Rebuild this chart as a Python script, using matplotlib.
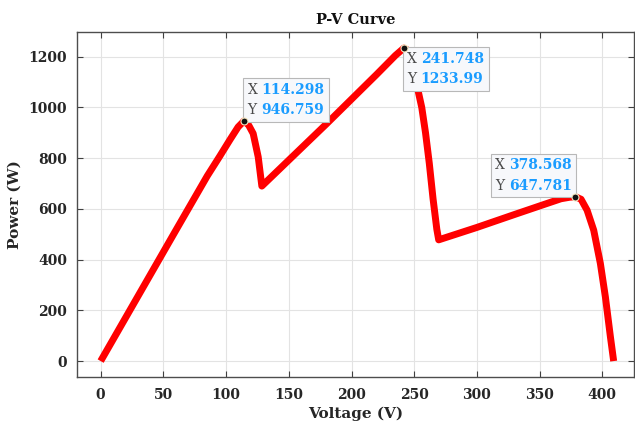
import matplotlib.pyplot as plt
from matplotlib.offsetbox import TextArea, HPacker, VPacker, AnnotationBbox
import numpy as np

# P-V curve of a partially shaded array (three local maxima)
voltage = [0, 30, 60, 85, 95, 103, 109.6, 114.298, 118, 121.6, 125.6, 128.5,
           180, 220, 235, 241.748, 245, 248, 252, 256, 259, 262, 265, 268, 269.5,
           300, 330, 355, 367, 374, 378.568, 383, 387.8, 393.1, 398.4, 402.4, 406.4, 409]
power = [0, 258, 516, 730, 808, 872, 923, 946.759, 930, 897, 805, 690,
         935, 1130, 1205, 1233.99, 1225, 1175, 1090, 1000, 900, 780, 640, 520, 478,
         527, 578, 620, 640, 646, 647.781, 638, 595, 516, 385, 253, 96, 0]

# data tips
tips_x = [114.298, 241.748, 378.568]
tips_y = [946.759, 1233.99, 647.781]
tip_offsets = [(2.5, 2.5), (2.5, -2.5), (-2.5, 2.5)]
tip_anchor = [(0, 0), (0, 1), (1, 0)]

plt.rcParams['font.family'] = ['DejaVu Serif']

fig = plt.figure(figsize=(6.35, 4.28), dpi=100)
ax = fig.add_axes([0.121, 0.119, 0.877, 0.806])

ax.plot(voltage, power, color='#ff0000', lw=5, solid_capstyle='butt',
        solid_joinstyle='round', zorder=3)

ax.set_xlim(-19, 425)
ax.set_ylim(-63, 1297)
ax.set_xticks(np.arange(0, 401, 50))
ax.set_yticks(np.arange(0, 1201, 200))
ax.grid(True, color='#e3e3e3', lw=0.8)
ax.set_axisbelow(True)
ax.tick_params(direction='in', top=True, right=True, length=4, color='#404040',
               labelsize=10, labelcolor='#262626')
ax.tick_params(axis='x', pad=8)
ax.tick_params(axis='y', pad=7)
for lab in ax.get_xticklabels() + ax.get_yticklabels():
    lab.set_fontweight('bold')
for sp in ax.spines.values():
    sp.set_color('#4d4d4d')
    sp.set_linewidth(1.0)

ax.set_title('P-V Curve', fontsize=10.5, fontweight='bold', color='#111111', pad=6)
ax.set_xlabel('Voltage (V)', fontsize=11, fontweight='bold', color='#262626', labelpad=3)
ax.set_ylabel('Power (W)', fontsize=11, fontweight='bold', color='#262626', labelpad=5)

def tip_row(letter, value):
    a = TextArea(letter, textprops=dict(color='#4a4a4a', fontsize=10))
    b = TextArea(value, textprops=dict(color='#1a9cff', fontsize=10, fontweight='bold'))
    return HPacker(children=[a, b], pad=0, sep=3, align='baseline')

for x, y, off, anchor in zip(tips_x, tips_y, tip_offsets, tip_anchor):
    ax.plot(x, y, 'o', ms=5, mfc='#111111', mec='#f5e6c0', mew=0.8, zorder=7)
    rows = VPacker(children=[tip_row('X', '{:.6g}'.format(x)),
                             tip_row('Y', '{:.6g}'.format(y))],
                   pad=0, sep=5, align='left')
    ab = AnnotationBbox(rows, (x, y), xybox=off, xycoords='data',
                        boxcoords='offset points', box_alignment=anchor,
                        pad=0.55, frameon=True, zorder=6,
                        bboxprops=dict(boxstyle='square', fc='#f7f8fb', ec='#b8b8b8', lw=0.8))
    ax.add_artist(ab)

fig.savefig('out.png', dpi=100)
